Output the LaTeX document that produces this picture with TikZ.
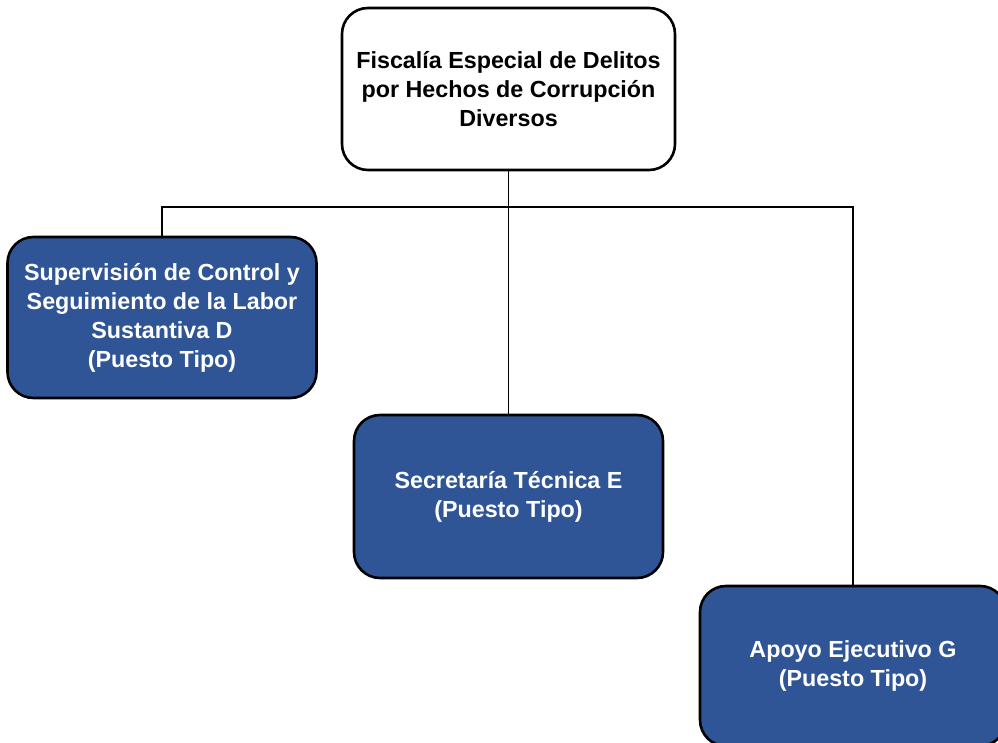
\documentclass[tikz,border=0pt]{standalone}
\usepackage{fontspec}
\setmainfont{Liberation Sans}
\definecolor{boxblue}{RGB}{47,85,151}
\begin{document}
\begin{tikzpicture}[x=1pt,y=-1pt,
  orgbox/.style={draw=black, line width=2.6pt, rounded corners=26pt, align=center,
    font=\fontsize{23.3}{29}\selectfont\bfseries, inner sep=0pt},
  bluebox/.style={orgbox, fill=boxblue, text=white},
  topbox/.style={orgbox, fill=white, text=black},
  conn/.style={draw=black, line width=1.4pt}]
\useasboundingbox (0,0) rectangle (998,743);
\clip (0,0) rectangle (998,743);
\fill[white] (0,0) rectangle (998,743);
\node[topbox, minimum width=333pt, minimum height=162pt] (top) at (508.5,89)
  {Fiscalía Especial de Delitos\\por Hechos de Corrupción\\Diversos};
\node[bluebox, minimum width=309pt, minimum height=161pt] (left) at (162,317.5)
  {Supervisión de Control y\\Seguimiento de la Labor\\Sustantiva D\\(Puesto Tipo)};
\node[bluebox, minimum width=309pt, minimum height=163pt] (mid) at (508.5,496.5)
  {Secretaría Técnica E\\(Puesto Tipo)};
\node[bluebox, minimum width=306pt, minimum height=160pt] (right) at (853,666)
  {Apoyo Ejecutivo G\\(Puesto Tipo)};
\coordinate (busL) at (162,207);
\draw[conn] (top.south) -- (mid.north);
\draw[conn] (left.north) -- (busL) -| (right.north);
\end{tikzpicture}
\end{document}
